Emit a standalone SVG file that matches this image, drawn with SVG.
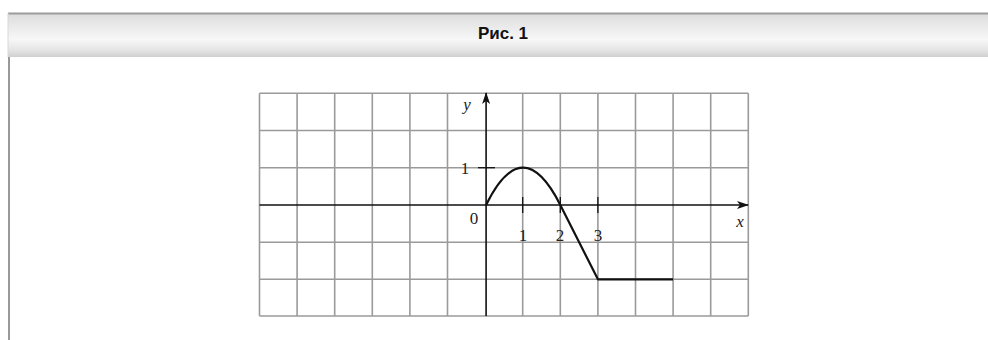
<svg xmlns="http://www.w3.org/2000/svg" width="988" height="340" viewBox="0 0 988 340">
<defs>
<linearGradient id="hg" x1="0" y1="0" x2="0" y2="1">
<stop offset="0" stop-color="#dcdcdc"/>
<stop offset="0.6" stop-color="#f7f7f7"/>
<stop offset="0.85" stop-color="#e4e4e4"/>
<stop offset="1" stop-color="#cfcfcf"/>
</linearGradient>
<marker id="arr" markerWidth="12" markerHeight="8" refX="11" refY="4" orient="auto" markerUnits="userSpaceOnUse">
<path d="M0,0 L12,4 L0,8 L3,4 Z" fill="#111"/>
</marker>
<style>
.grid line{stroke:#9a9a9a;stroke-width:1.6}
.axis{stroke:#111;stroke-width:1.6;fill:none}
.tick{stroke:#111;stroke-width:1.3}
.curve{stroke:#111;stroke-width:2.2;fill:none;stroke-linejoin:round}
.lbl{font-family:"Liberation Serif",serif;font-size:17px;fill:#222}
.it{font-style:italic}
</style>
</defs>
<rect width="988" height="340" fill="#fff"/>
<g id="header">
<rect x="8" y="13" width="980" height="44" fill="url(#hg)"/>
<line x1="8" y1="13.5" x2="988" y2="13.5" stroke="#9c9c9c" stroke-width="2"/>
<line x1="8" y1="13" x2="8" y2="57" stroke="#d8d8d8" stroke-width="1"/>
<text x="503" y="39" text-anchor="middle" font-family="Liberation Sans, sans-serif" font-weight="bold" font-size="17" fill="#111">Рис. 1</text>
</g>
<line x1="9" y1="57" x2="9" y2="340" stroke="#777" stroke-width="1.5"/>
<g id="grid" class="grid">
<line x1="259.5" y1="93.3" x2="259.5" y2="316"/>
<line x1="297.1" y1="93.3" x2="297.1" y2="316"/>
<line x1="334.7" y1="93.3" x2="334.7" y2="316"/>
<line x1="372.3" y1="93.3" x2="372.3" y2="316"/>
<line x1="409.9" y1="93.3" x2="409.9" y2="316"/>
<line x1="447.5" y1="93.3" x2="447.5" y2="316"/>
<line x1="522.7" y1="93.3" x2="522.7" y2="316"/>
<line x1="560.3" y1="93.3" x2="560.3" y2="316"/>
<line x1="597.9" y1="93.3" x2="597.9" y2="316"/>
<line x1="635.5" y1="93.3" x2="635.5" y2="316"/>
<line x1="673.1" y1="93.3" x2="673.1" y2="316"/>
<line x1="710.7" y1="93.3" x2="710.7" y2="316"/>
<line x1="748.3" y1="93.3" x2="748.3" y2="316"/>
<line x1="259.5" y1="93.3" x2="748.3" y2="93.3"/>
<line x1="259.5" y1="130.5" x2="748.3" y2="130.5"/>
<line x1="259.5" y1="167.7" x2="748.3" y2="167.7"/>
<line x1="259.5" y1="242.2" x2="748.3" y2="242.2"/>
<line x1="259.5" y1="279.3" x2="748.3" y2="279.3"/>
<line x1="259.5" y1="316" x2="748.3" y2="316"/>
</g>
<g id="connectors">
<line class="axis" x1="259.5" y1="205" x2="748" y2="205" marker-end="url(#arr)"/>
<line class="axis" x1="486.1" y1="316" x2="486.1" y2="93" marker-end="url(#arr)"/>
<line class="tick" x1="478" y1="167.7" x2="495" y2="167.7"/>
<line class="tick" x1="522.7" y1="197" x2="522.7" y2="213"/>
<line class="tick" x1="560.3" y1="197" x2="560.3" y2="213"/>
<line class="tick" x1="597.9" y1="197" x2="597.9" y2="213"/>
<path class="curve" d="M486.1,205 Q522.7,130.4 560.3,205 L597.9,279.3 L673.1,279.3"/>
</g>
<g id="labels">
<text class="lbl it" x="467" y="110" text-anchor="middle">y</text>
<text class="lbl" x="465" y="174" text-anchor="middle">1</text>
<text class="lbl" x="474" y="224" text-anchor="middle">0</text>
<text class="lbl" x="523" y="241" text-anchor="middle">1</text>
<text class="lbl" x="560" y="241" text-anchor="middle">2</text>
<text class="lbl" x="598" y="241" text-anchor="middle">3</text>
<text class="lbl it" x="740" y="227" text-anchor="middle">x</text>
</g>
</svg>
